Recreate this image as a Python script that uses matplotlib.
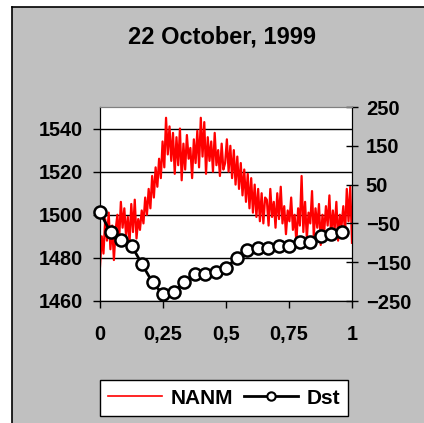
import numpy as np
import matplotlib.pyplot as plt
from matplotlib.lines import Line2D
from matplotlib.patches import Rectangle

plt.rcParams['font.family'] = ['Liberation Sans', 'DejaVu Sans']
plt.rcParams['font.weight'] = 'bold'

title = "22 October, 1999"

# neutron monitor counts (left axis), roughly every 10 minutes
nanm = [1476, 1490, 1482, 1498, 1488, 1501, 1484, 1495, 1479, 1493, 1500, 1488,
        1506, 1494, 1503, 1490, 1499, 1487, 1505, 1492, 1507, 1489, 1498, 1493,
        1502, 1496, 1508, 1500, 1512, 1503, 1518, 1508, 1522, 1513, 1526, 1517,
        1534, 1522, 1545, 1528, 1541, 1525, 1538, 1519, 1536, 1523, 1540, 1516,
        1533, 1521, 1537, 1526, 1531, 1517, 1535, 1524, 1539, 1522, 1545, 1527,
        1543, 1519, 1536, 1525, 1534, 1520, 1538, 1523, 1530, 1518, 1533, 1521,
        1524, 1535, 1520, 1532, 1517, 1530, 1514, 1527, 1512, 1524, 1509, 1521,
        1506, 1519, 1503, 1517, 1501, 1514, 1499, 1512, 1497, 1510, 1496, 1508,
        1507, 1495, 1512, 1499, 1506, 1494, 1510, 1498, 1513, 1496, 1504, 1491,
        1502, 1497, 1508, 1493, 1500, 1487, 1503, 1495, 1518, 1492, 1506, 1489,
        1501, 1496, 1511, 1490, 1503, 1494, 1505, 1486, 1500, 1492, 1504, 1495,
        1509, 1490, 1502, 1493, 1506, 1488, 1500, 1495, 1504, 1491, 1512, 1497,
        1513, 1487]

# hourly Dst index (right axis)
dst = [-21, -73, -94, -107, -155, -202, -233, -227, -202, -180, -180, -174,
       -166, -138, -118, -114, -114, -108, -107, -97, -97, -82, -77, -71]

x_nanm = np.arange(len(nanm)) / (len(nanm) - 1)
x_dst = np.arange(len(dst)) / 24

fig = plt.figure(figsize=(4.24, 4.23), dpi=100, facecolor='white')
fig.add_artist(Rectangle((12/424, 0), 1, 1 - 7/423, transform=fig.transFigure,
                         facecolor='#c0c0c0', edgecolor='none', zorder=-10))
fig.add_artist(Line2D([12/424, 12/424], [0, 1 - 7/423], color='black', lw=1.2))
fig.add_artist(Line2D([12/424, 1], [1 - 7/423, 1 - 7/423], color='black', lw=1.2))

ax = fig.add_axes([100/424, 1 - 301/423, 252/424, 194/423])
ax.set_facecolor('white')
ax.plot(x_nanm, nanm, color='red', lw=1.6)
ax.set_xlim(0, 1)
ax.set_ylim(1460, 1550)
ax.set_yticks([1460, 1480, 1500, 1520, 1540])
ax.set_xticks([0, 0.25, 0.5, 0.75, 1])
ax.set_xticklabels(['0', '0,25', '0,5', '0,75', '1'])
ax.grid(axis='y', color='black', lw=1)
ax.tick_params(axis='y', direction='out', length=5, width=1, labelsize=14.3, pad=7)
ax.tick_params(axis='x', direction='out', length=5, width=1, labelsize=14.3, pad=12)
ax.spines['top'].set_color('#808080')

ax2 = ax.twinx()
ax2.plot(x_dst, dst, color='black', lw=2, marker='o', ms=8.7, mfc='white',
         mec='black', mew=1.8, clip_on=False, zorder=5)
ax2.set_ylim(-250, 250)
ax2.set_yticks([-250, -150, -50, 50, 150, 250])
ax2.tick_params(axis='y', direction='inout', length=8, width=1, labelsize=14.5, pad=6)
ax2.spines['top'].set_color('#808080')

fig.text(222/424, 1 - 37/423, title, ha='center', va='center', fontsize=17,
         fontweight='bold')

handles = [Line2D([], [], color='red', lw=1.2),
           Line2D([], [], color='black', lw=2, marker='o', ms=6, mfc='white',
                  mec='black', mew=1.5)]
leg = fig.legend(handles, ['NANM', 'Dst'], loc='center', ncol=2,
                 bbox_to_anchor=(224/424, 1 - 398/423), frameon=True,
                 fancybox=False, edgecolor='black', framealpha=1,
                 prop={'size': 15, 'weight': 'bold'}, handlelength=2.6,
                 columnspacing=0.5, handletextpad=0.4, borderpad=0.4)
leg.get_frame().set_linewidth(1)

fig.savefig('out.png', dpi=100, facecolor=fig.get_facecolor())
